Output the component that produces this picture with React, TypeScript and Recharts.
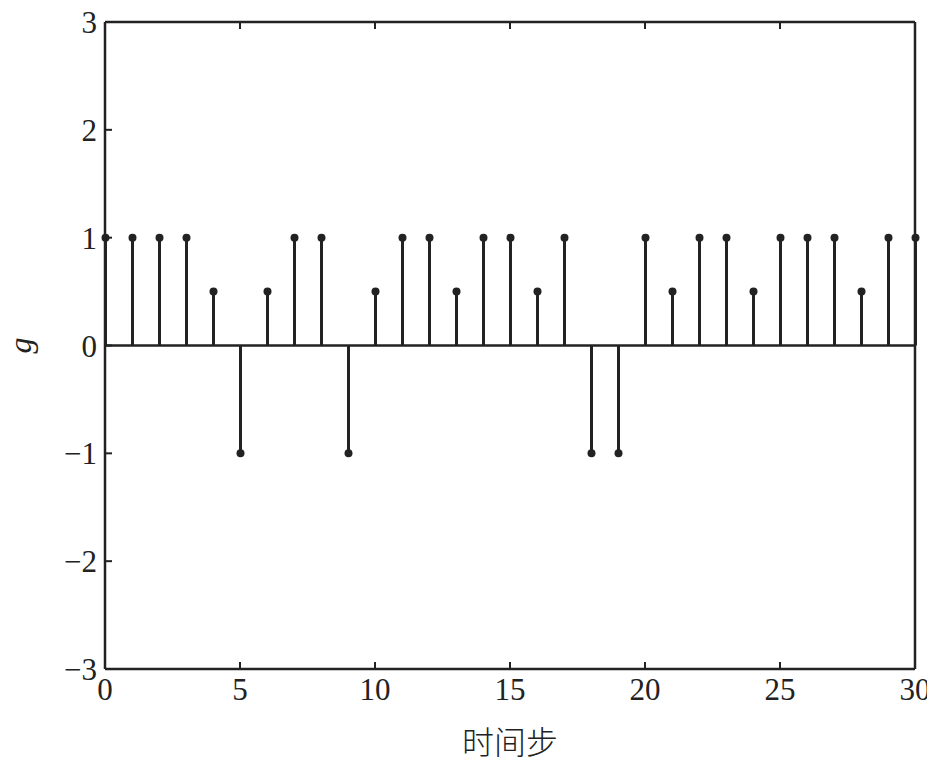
import React from 'react';
import { ComposedChart, Bar, XAxis, YAxis, ReferenceLine } from 'recharts';

const steps = [0,1,2,3,4,5,6,7,8,9,10,11,12,13,14,15,16,17,18,19,20,21,22,23,24,25,26,27,28,29,30];
const gValues = [1,1,1,1,0.5,-1,0.5,1,1,-1,0.5,1,1,0.5,1,1,0.5,1,-1,-1,1,0.5,1,1,0.5,1,1,1,0.5,1,1];
const xTicks = [0,5,10,15,20,25,30];
const yTicks = [-3,-2,-1,0,1,2,3];
const xLabel = '时间步';
const yLabel = 'g';

const data = steps.map((s, i) => ({ t: s, g: gValues[i] }));

const INK = '#222222';
const FONT = '"Liberation Serif", "DejaVu Serif", serif';
const TICK = 7;

const fmt = (v: number) => (v < 0 ? '\u2212' + Math.abs(v) : String(v));

const Stem = (props: any) => {
  const { x, y, width, height, payload } = props;
  const cx = x + width / 2;
  const y1 = y;
  const y2 = y + height;
  const v = payload.g;
  const dotY = v >= 0 ? Math.min(y1, y2) : Math.max(y1, y2);
  return (
    <g>
      <line x1={cx} x2={cx} y1={y1} y2={y2} stroke={INK} strokeWidth={3} />
      <circle cx={cx} cy={dotY} r={4} fill={INK} />
    </g>
  );
};

const BottomTick = (props: any) => {
  const { x, y, payload } = props;
  return (
    <g>
      <line x1={x} x2={x} y1={y} y2={y - TICK} stroke={INK} strokeWidth={2} />
      <text x={x} y={y + 31} textAnchor="middle" fontFamily={FONT} fontSize={31} fill={INK}>
        {fmt(payload.value)}
      </text>
    </g>
  );
};

const TopTick = (props: any) => {
  const { x, y } = props;
  return <line x1={x} x2={x} y1={y} y2={y + TICK} stroke={INK} strokeWidth={2} />;
};

const LeftTick = (props: any) => {
  const { x, y, payload } = props;
  return (
    <g>
      <line x1={x} x2={x + TICK} y1={y} y2={y} stroke={INK} strokeWidth={2} />
      <text x={x - 8} y={y + 11} textAnchor="end" fontFamily={FONT} fontSize={31} fill={INK}>
        {fmt(payload.value)}
      </text>
    </g>
  );
};

const RightTick = (props: any) => {
  const { x, y } = props;
  return <line x1={x} x2={x - TICK} y1={y} y2={y} stroke={INK} strokeWidth={2} />;
};

export default function App() {
  return (
    <div style={{ margin: -8, width: 935, height: 765, overflow: 'hidden', background: '#fff' }}>
      <ComposedChart
        width={935}
        height={765}
        data={data}
        margin={{ top: 21, right: 19, bottom: 8, left: 15 }}
      >
        <XAxis
          xAxisId="b"
          dataKey="t"
          type="number"
          domain={[0, 30]}
          ticks={xTicks}
          orientation="bottom"
          height={88}
          tickSize={0}
          tickMargin={0}
          tickLine={false}
          tick={<BottomTick />}
          axisLine={{ stroke: INK, strokeWidth: 2.5 }}
          label={{
            content: (p: any) => {
              const vb = p.viewBox;
              return (
                <text
                  x={vb.x + vb.width / 2}
                  y={vb.y + 85}
                  textAnchor="middle"
                  fontFamily='"Noto Sans CJK SC", sans-serif'
                  fontSize={32}
                  fontWeight={300}
                  fill={INK}
                >
                  {xLabel}
                </text>
              );
            },
          }}
        />
        <XAxis
          xAxisId="t"
          dataKey="t"
          type="number"
          domain={[0, 30]}
          ticks={xTicks}
          orientation="top"
          height={1}
          tickSize={0}
          tickMargin={0}
          tickLine={false}
          tick={<TopTick />}
          axisLine={{ stroke: INK, strokeWidth: 2.5 }}
        />
        <YAxis
          yAxisId="l"
          type="number"
          domain={[-3, 3]}
          ticks={yTicks}
          orientation="left"
          width={90}
          tickSize={0}
          tickMargin={0}
          tickLine={false}
          tick={<LeftTick />}
          axisLine={{ stroke: INK, strokeWidth: 2.5 }}
          label={{
            content: (p: any) => {
              const vb = p.viewBox;
              const cx = vb.x + 16;
              const cy = vb.y + vb.height / 2;
              return (
                <text
                  x={cx}
                  y={cy}
                  transform={`rotate(-90 ${cx} ${cy})`}
                  textAnchor="middle"
                  fontFamily={FONT}
                  fontStyle="italic"
                  fontSize={32}
                  fill={INK}
                >
                  {yLabel}
                </text>
              );
            },
          }}
        />
        <YAxis
          yAxisId="r"
          type="number"
          domain={[-3, 3]}
          ticks={yTicks}
          orientation="right"
          width={1}
          tickSize={0}
          tickMargin={0}
          tickLine={false}
          tick={<RightTick />}
          axisLine={{ stroke: INK, strokeWidth: 2.5 }}
        />
        <ReferenceLine xAxisId="b" yAxisId="l" y={0} stroke={INK} strokeWidth={2.5} />
        <Bar
          xAxisId="b"
          yAxisId="l"
          dataKey="g"
          barSize={4}
          shape={<Stem />}
          isAnimationActive={false}
        />
      </ComposedChart>
    </div>
  );
}
